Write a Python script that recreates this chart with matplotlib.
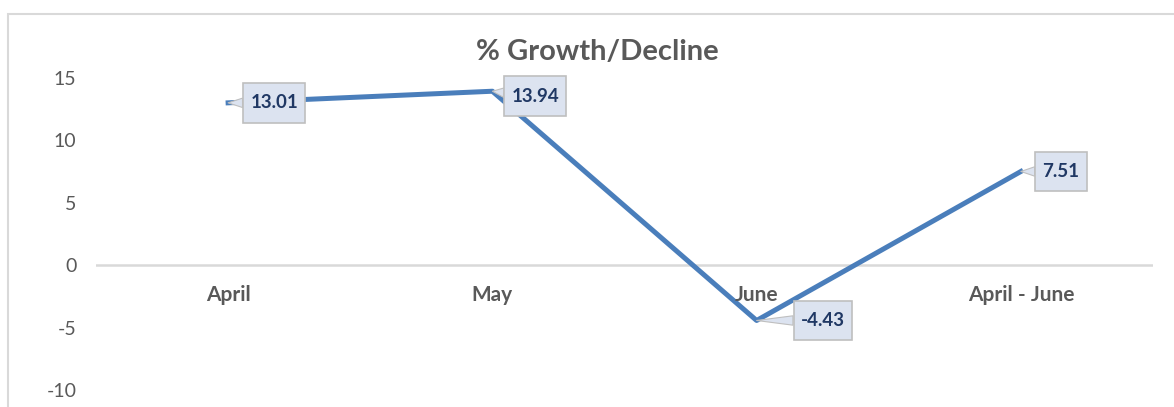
import matplotlib.pyplot as plt
from matplotlib.patches import Rectangle

# データ
categories = ["April", "May", "June", "April - June"]
growth = [13.01, 13.94, -4.43, 7.51]
yticks = [-10, -5, 0, 5, 10, 15]

# ラベルの位置 (点からのずれ, px)
label_offsets = [(46, 0), (43, -5), (66, 0), (40, 0)]

plt.rcParams['font.family'] = ['Lato', 'DejaVu Sans']

W, H = 1174, 407
fig = plt.figure(figsize=(W / 100, H / 100), dpi=100)

# グラフ領域の枠
fig.patches.append(Rectangle((8 / W, -0.1), 1.2, (H - 14) / H + 0.1,
                             transform=fig.transFigure, fill=False,
                             ec="#D9D9D9", lw=1.5))

ax = fig.add_axes([96 / W, 17 / H, 1057 / W, 312 / H])
xs = list(range(len(categories)))

ax.axhline(0, color="#D9D9D9", lw=1.8, zorder=1)
ax.plot(xs, growth, color="#4A7EBB", lw=3.6, zorder=2)

for x, v, (dx, dy) in zip(xs, growth, label_offsets):
    ax.annotate(f"{v:.2f}", (x, v), xytext=(dx, dy), textcoords="offset pixels",
                ha="center", va="center", fontsize=13.5, fontweight="bold",
                color="#203864", zorder=4,
                bbox=dict(boxstyle="square,pad=0.38", fc="#DCE3F0", ec="#BFBFBF",
                          lw=1.2, mutation_aspect=1.6),
                arrowprops=dict(arrowstyle="wedge,tail_width=0.5,shrink_factor=0.5",
                                fc="#DCE3F0", ec="#BFBFBF", lw=0.8,
                                shrinkA=0, shrinkB=0))

for x, c in zip(xs, categories):
    ax.annotate(c, (x, 0), xytext=(0, -30), textcoords="offset pixels",
                ha="center", va="center", fontsize=15, fontweight="bold",
                color="#595959", zorder=3)

ax.set_xlim(-0.5, 3.5)
ax.set_ylim(-10, 15)
ax.set_xticks([])
ax.set_yticks(yticks)
ax.set_yticklabels([str(t) for t in yticks])
ax.tick_params(axis="y", length=0, pad=14, labelsize=14, labelcolor="#595959")
for s in ax.spines.values():
    s.set_visible(False)

fig.text(597 / W, 1 - 52 / H, "% Growth/Decline", ha="center", va="center",
         fontsize=21, fontweight="bold", color="#595959")

plt.savefig("out.png", dpi=100)
